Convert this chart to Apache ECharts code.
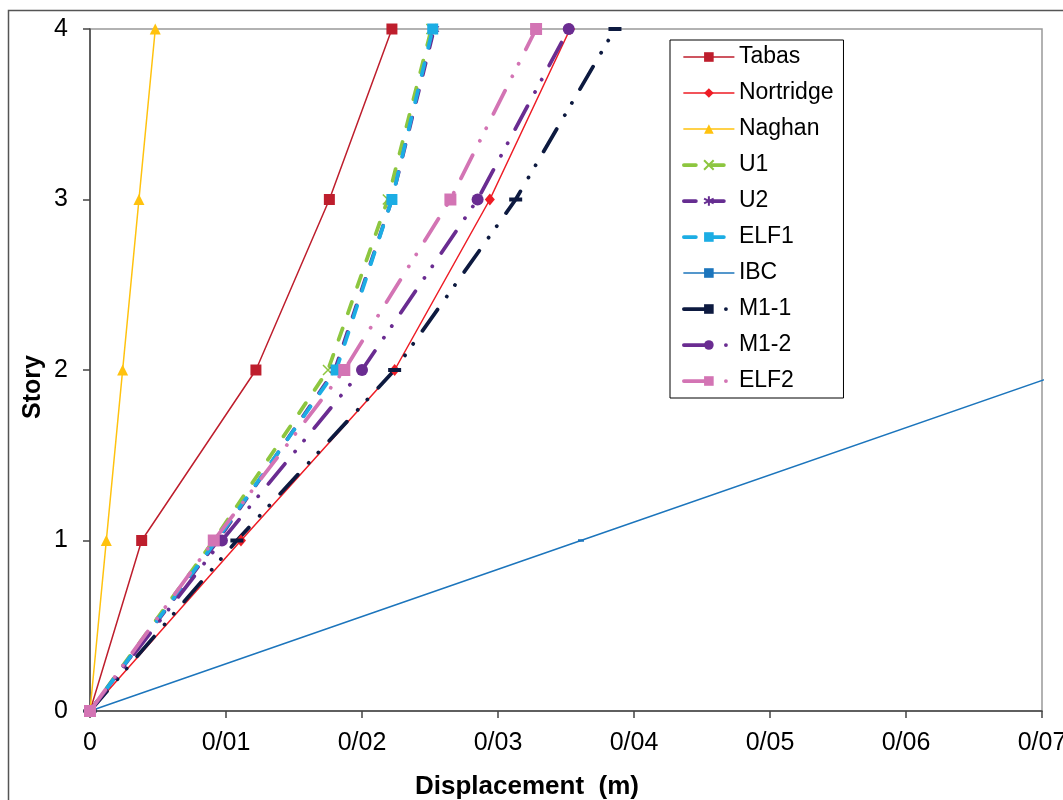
<!DOCTYPE html>
<html><head><meta charset="utf-8">
<script src="https://cdn.jsdelivr.net/npm/echarts@6/dist/echarts.min.js"></script>
<style>html,body{margin:0;padding:0;background:#fff}#c{width:1063px;height:800px}</style>
</head><body><div id="c"></div>
<script>
const stories = [0, 1, 2, 3, 4];
const xTicks = [0, 0.01, 0.02, 0.03, 0.04, 0.05, 0.06, 0.07];
const tabas = [0, 0.0038, 0.0122, 0.0176, 0.0222];
const nortridge = [0, 0.0111, 0.0224, 0.0294, 0.0353];
const naghan = [0, 0.0012, 0.0024, 0.0036, 0.0048];
const u1 = [0, 0.0091, 0.0175, 0.0219, 0.0251];
const u2 = [0, 0.0094, 0.0180, 0.0222, 0.0253];
const elf1 = [0, 0.0093, 0.0181, 0.0222, 0.0252];
const ibc = [0, 0.0361, 0.0722, 0.1083, 0.1444];
const m11 = [0, 0.0108, 0.0224, 0.0313, 0.0386];
const m12 = [0, 0.0097, 0.0200, 0.0285, 0.0352];
const elf2 = [0, 0.0091, 0.0187, 0.0265, 0.0328];

const FONT = 'Liberation Sans, Arial, sans-serif';
const pts = arr => arr.map((v, i) => [v, stories[i]]);
const dashed = [12, 16];
const dashDotDot = [26, 16, 0.1, 14, 0.1, 16];

function mk(name, data, color, opt) {
  return Object.assign({
    name, type: 'line', data: pts(data), showSymbol: true,
    lineStyle: { color, width: 1.5, type: 'solid', cap: 'round' },
    itemStyle: { color },
    emphasis: { disabled: true }, animation: false
  }, opt);
}

const series = [
  mk('Tabas', tabas, '#BE1E2D', { symbol: 'rect', symbolSize: 11 }),
  mk('Nortridge', nortridge, '#EE1C25', { symbol: 'diamond', symbolSize: [10, 12] }),
  mk('Naghan', naghan, '#FFC20E', { symbol: 'triangle', symbolSize: 11 }),
  mk('U1', u1, '#8DC63F', {
    symbol: 'path://M0,0L10,10M10,0L0,10', symbolSize: 10,
    lineStyle: { color: '#8DC63F', width: 3.75, type: dashed, cap: 'round' },
    itemStyle: { color: '#8DC63F', borderColor: '#8DC63F', borderWidth: 1.5 }
  }),
  mk('U2', u2, '#662D91', {
    symbol: 'path://M5,0L5,10M0,2.5L10,7.5M0,7.5L10,2.5', symbolSize: 10,
    lineStyle: { color: '#662D91', width: 3.75, type: dashed, cap: 'round' },
    itemStyle: { color: '#662D91', borderColor: '#662D91', borderWidth: 1.2 }
  }),
  mk('ELF1', elf1, '#1CADE4', {
    symbol: 'rect', symbolSize: 11,
    lineStyle: { color: '#1CADE4', width: 3.75, type: dashed, cap: 'round' }
  }),
  mk('IBC', ibc, '#1C75BC', { symbol: 'rect', symbolSize: [6, 2.5] }),
  mk('M1-1', m11, '#0D1A40', {
    symbol: 'rect', symbolSize: [13, 4],
    lineStyle: { color: '#0D1A40', width: 3.75, type: dashDotDot, cap: 'round' }
  }),
  mk('M1-2', m12, '#6A2C91', {
    symbol: 'circle', symbolSize: 12,
    lineStyle: { color: '#6A2C91', width: 3.75, type: dashDotDot, cap: 'round' }
  }),
  mk('ELF2', elf2, '#D374B4', {
    symbol: 'rect', symbolSize: 12,
    lineStyle: { color: '#D374B4', width: 3.75, type: dashDotDot, cap: 'round' }
  })
];

const chart = echarts.init(document.getElementById('c'), null, { renderer: 'canvas' });
chart.setOption({
  animation: false,
  backgroundColor: '#fff',
  grid: { left: 90, top: 29, right: 21, bottom: 89, show: true, borderColor: '#999', borderWidth: 1.5, containLabel: false, outerBoundsMode: 'none' },
  xAxis: {
    type: 'value', min: xTicks[0], max: xTicks[xTicks.length - 1], interval: 0.01,
    axisLine: { show: true, lineStyle: { color: '#444', width: 1.5 } },
    axisTick: { show: true, inside: false, length: 7, lineStyle: { color: '#444', width: 1.5 } },
    splitLine: { show: false },
    axisLabel: {
      margin: 20, fontFamily: FONT, fontSize: 25, color: '#000', hideOverlap: false,
      formatter: v => v === 0 ? '0' : v.toFixed(2).replace('.', '/')
    }
  },
  yAxis: {
    type: 'value', min: 0, max: 4, interval: 1,
    axisLine: { show: true, lineStyle: { color: '#444', width: 1.5 } },
    axisTick: { show: true, inside: false, length: 7, lineStyle: { color: '#444', width: 1.5 } },
    splitLine: { show: false },
    axisLabel: { margin: 22, fontFamily: FONT, fontSize: 25, color: '#000' }
  },
  legend: {
    orient: 'vertical', left: 670, top: 40,
    backgroundColor: '#fff', borderColor: '#000', borderWidth: 1,
    padding: [5, 10, 5, 12],
    itemWidth: 50, itemHeight: 12, itemGap: 12,
    lineStyle: { width: 'inherit' },
    textStyle: { fontFamily: FONT, fontSize: 23, color: '#000', lineHeight: 24 },
    data: series.map(s => s.name)
  },
  graphic: [
    { type: 'rect', shape: { x: 8.5, y: 10.5, width: 1200, height: 900 }, style: { fill: 'none', stroke: '#555', lineWidth: 1.5 }, z: 100, silent: true },
    { type: 'text', x: 527, y: 787, style: { text: 'Displacement  (m)', fontFamily: FONT, fontSize: 26, fontWeight: 'bold', fill: '#000', textAlign: 'center', textVerticalAlign: 'middle' } },
    { type: 'text', x: 33, y: 387, rotation: Math.PI / 2, style: { text: 'Story', fontFamily: FONT, fontSize: 25, fontWeight: 'bold', fill: '#000', textAlign: 'center', textVerticalAlign: 'middle' } }
  ],
  series
});
</script></body></html>
